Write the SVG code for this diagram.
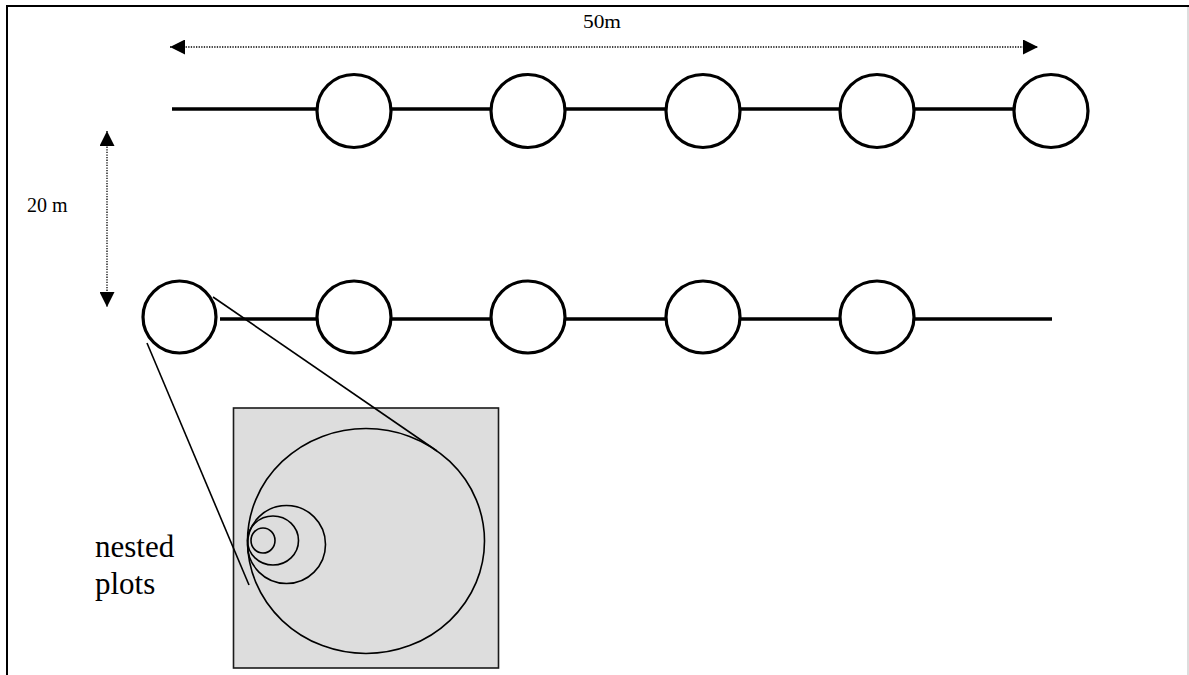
<svg xmlns="http://www.w3.org/2000/svg" width="1189" height="675" viewBox="0 0 1189 675">
  <style>
    .plot { fill: #ffffff; stroke: #000000; stroke-width: 3.2; }
    .transect { stroke: #000000; stroke-width: 3.5; fill: none; }
    .dim { stroke: #000000; stroke-width: 1.3; stroke-dasharray: 1.3 1.3; fill: none; }
    .zoomline { stroke: #000000; stroke-width: 1.6; fill: none; }
    .nest { fill: none; stroke: #000000; stroke-width: 1.6; }
    .label { font-family: "Liberation Serif", "Times New Roman", serif; fill: #000000; }
  </style>
  <defs>
    <marker id="tri" viewBox="0 0 10 10" refX="10" refY="5" markerWidth="15" markerHeight="15" markerUnits="userSpaceOnUse" orient="auto-start-reverse">
      <path d="M0,0 L10,5 L0,10 Z" fill="#000000"/>
    </marker>
  </defs>

  <!-- page frame -->
  <rect x="0" y="0" width="1189" height="675" fill="#ffffff"/>
  <line x1="6" y1="6" x2="1189" y2="6" stroke="#000000" stroke-width="2.2"/>
  <line x1="7" y1="5" x2="7" y2="675" stroke="#000000" stroke-width="2"/>
  <line x1="1188" y1="7" x2="1188" y2="675" stroke="#bbbbbb" stroke-width="1"/>

  <!-- top row of plots -->
  <g id="plot-top-1"><ellipse class="plot" cx="354" cy="111" rx="37" ry="36.5"/></g>
  <g id="plot-top-2"><ellipse class="plot" cx="528" cy="111" rx="37" ry="36.5"/></g>
  <g id="plot-top-3"><ellipse class="plot" cx="703" cy="111" rx="37" ry="36.5"/></g>
  <g id="plot-top-4"><ellipse class="plot" cx="877" cy="111" rx="37" ry="36.5"/></g>
  <g id="plot-top-5"><ellipse class="plot" cx="1051" cy="111" rx="37" ry="36.5"/></g>

  <!-- bottom row of plots -->
  <g id="plot-bottom-1"><ellipse class="plot" cx="179.5" cy="317" rx="36.5" ry="36"/></g>
  <g id="plot-bottom-2"><ellipse class="plot" cx="354" cy="317" rx="37" ry="36"/></g>
  <g id="plot-bottom-3"><ellipse class="plot" cx="528" cy="317" rx="37" ry="36"/></g>
  <g id="plot-bottom-4"><ellipse class="plot" cx="703" cy="317" rx="37" ry="36"/></g>
  <g id="plot-bottom-5"><ellipse class="plot" cx="877" cy="317" rx="37" ry="36"/></g>

  <!-- enlarged view of a nested plot -->
  <g id="nested-detail">
    <rect x="233.5" y="408" width="265" height="260" fill="#dddddd" stroke="#1a1a1a" stroke-width="1.6"/>
    <ellipse class="nest" cx="366" cy="541" rx="118.5" ry="112.5"/>
    <ellipse class="nest" cx="286.5" cy="544.5" rx="39" ry="39"/>
    <ellipse class="nest" cx="273" cy="540.5" rx="25.5" ry="24.5"/>
    <ellipse class="nest" cx="263" cy="540.5" rx="12" ry="12.5"/>
  </g>

  <!-- transect lines, dimension arrows and zoom guides -->
  <g id="connectors">
    <line class="transect" x1="172" y1="109" x2="316" y2="109"/>
    <line class="transect" x1="392" y1="109" x2="491" y2="109"/>
    <line class="transect" x1="566" y1="109" x2="666" y2="109"/>
    <line class="transect" x1="741" y1="109" x2="840" y2="109"/>
    <line class="transect" x1="915" y1="109" x2="1014" y2="109"/>

    <line class="transect" x1="220" y1="319" x2="316" y2="319"/>
    <line class="transect" x1="392" y1="319" x2="491" y2="319"/>
    <line class="transect" x1="566" y1="319" x2="666" y2="319"/>
    <line class="transect" x1="741" y1="319" x2="840" y2="319"/>
    <line class="transect" x1="915" y1="319" x2="1052" y2="319"/>

    <line class="dim" x1="170" y1="47" x2="1038" y2="47" marker-start="url(#tri)" marker-end="url(#tri)"/>
    <line class="dim" x1="107" y1="131" x2="107" y2="307" marker-start="url(#tri)" marker-end="url(#tri)"/>

    <line class="zoomline" x1="213" y1="297" x2="437" y2="451"/>
    <line class="zoomline" x1="147" y1="343" x2="249" y2="585"/>
  </g>

  <!-- labels -->
  <g id="label-50m"><text class="label" x="583" y="28" font-size="19" textLength="38" lengthAdjust="spacingAndGlyphs">50m</text></g>
  <g id="label-20m"><text class="label" x="27" y="212" font-size="20">20 m</text></g>
  <g id="label-nested">
    <text class="label" x="95" y="557" font-size="31">nested</text>
    <text class="label" x="95" y="594" font-size="31">plots</text>
  </g>
</svg>
